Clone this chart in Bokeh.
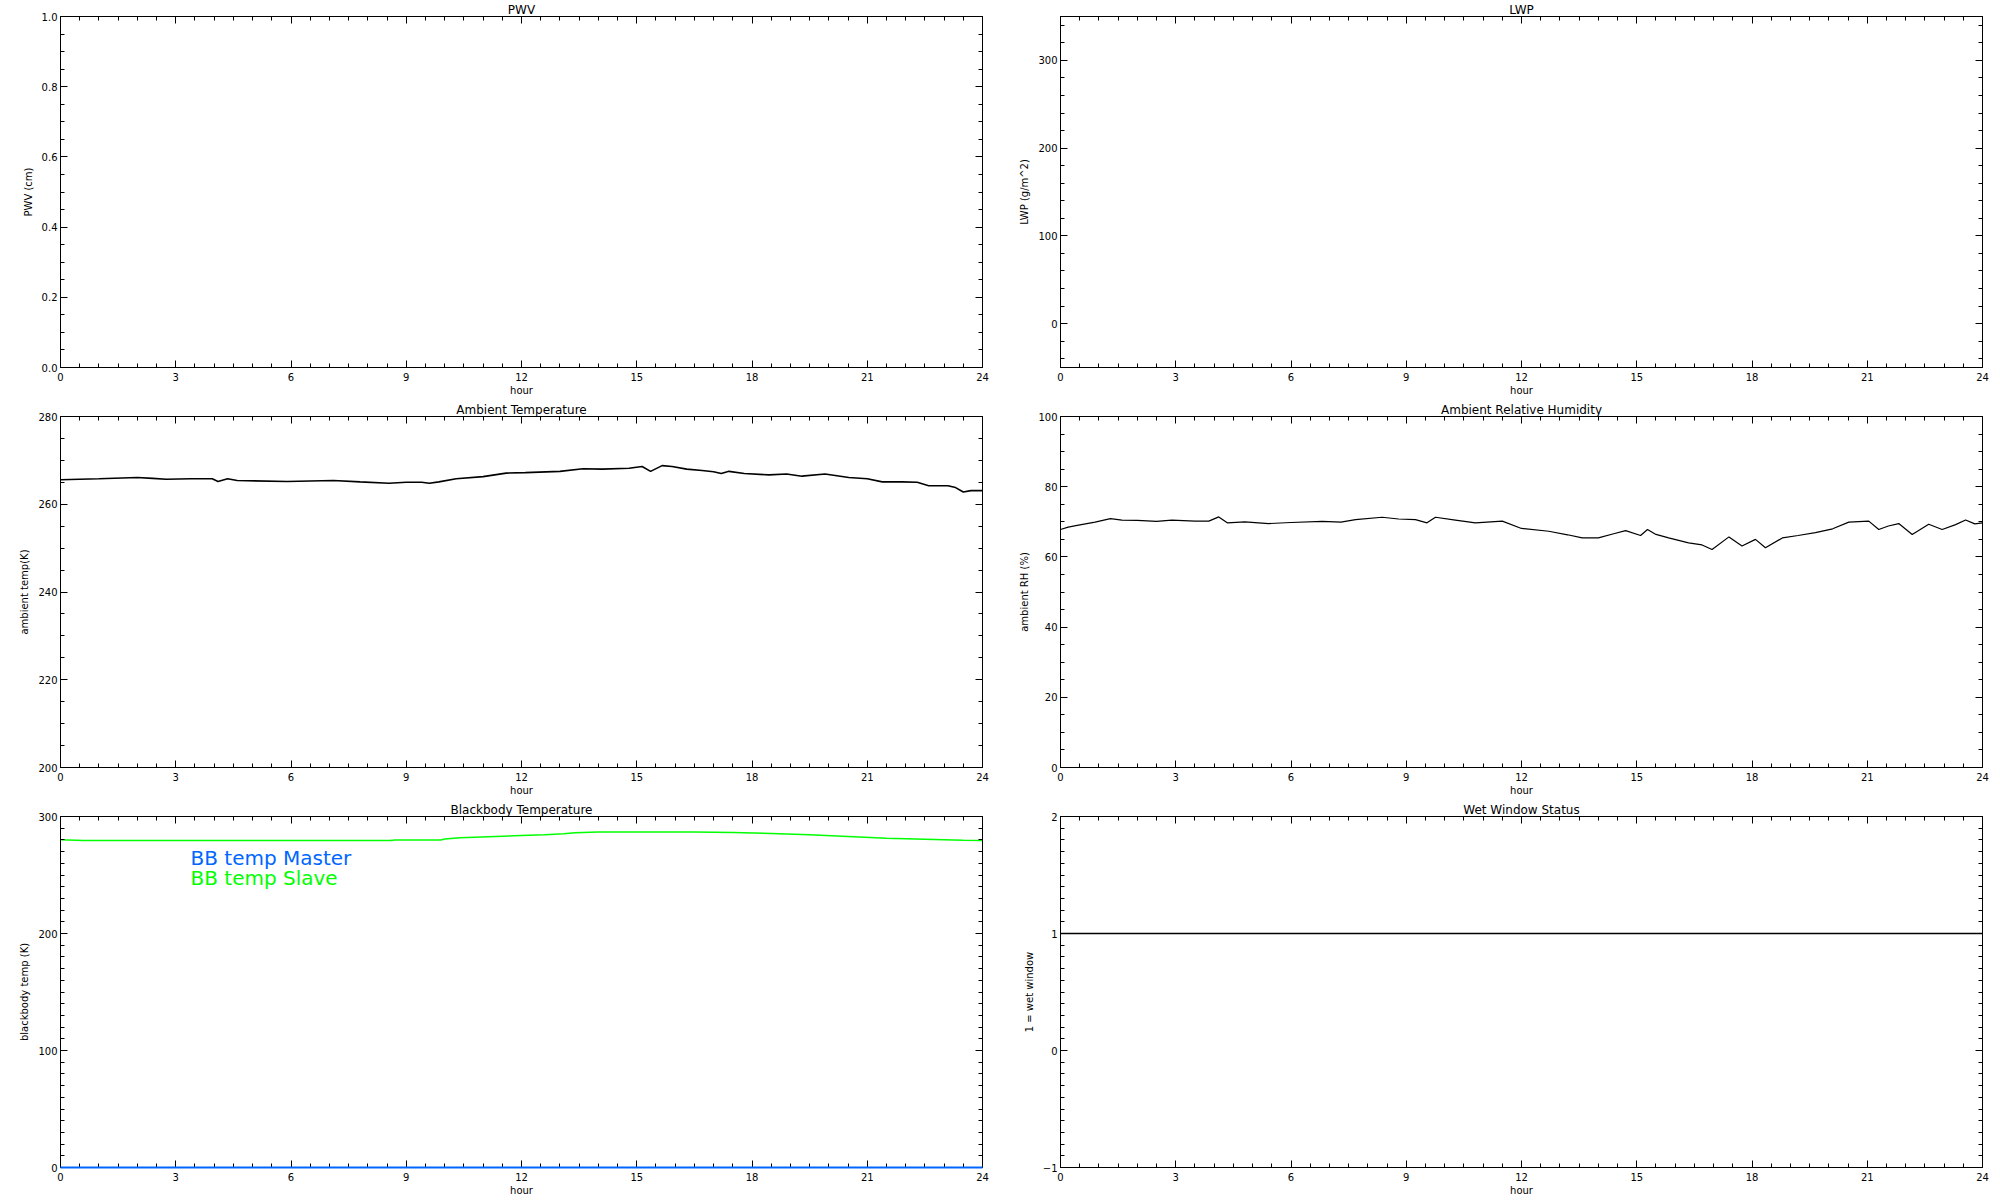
from bokeh.plotting import figure
from bokeh.layouts import column, row
from bokeh.models import (Range1d, LinearAxis, SingleIntervalTicker, Label, CustomJSTickFormatter,
                          CustomLabelingPolicy)
from bokeh.embed import file_html
from bokeh.resources import INLINE

FONT = "DejaVu Sans"

# ---------------- data ----------------
temp_hours = [0.0, 0.5, 1.0, 1.6, 2.0, 2.4, 2.75, 3.4, 3.95, 4.1, 4.35, 4.6, 5.9, 7.1, 7.8,
              8.55, 9.0, 9.4, 9.6, 9.85, 10.3, 11.0, 11.6, 12.1, 13.0, 13.6, 14.1, 14.8,
              15.14, 15.36, 15.66, 15.92, 16.3, 16.7, 17.0, 17.2, 17.4, 17.8, 18.44, 18.9,
              19.3, 19.9, 20.52, 21.0, 21.39, 21.9, 22.3, 22.6, 23.1, 23.3, 23.5, 23.7, 24.0]
temp_vals = [265.6, 265.7, 265.8, 266.0, 266.1, 265.9, 265.7, 265.8, 265.8, 265.2, 265.8, 265.4,
             265.2, 265.4, 265.1, 264.8, 265.0, 265.0, 264.8, 265.1, 265.8, 266.3, 267.1, 267.2,
             267.5, 268.1, 268.0, 268.2, 268.6, 267.5, 268.8, 268.6, 268.0, 267.7, 267.4, 267.0,
             267.5, 267.0, 266.7, 266.9, 266.4, 266.9, 266.1, 265.8, 265.1, 265.1, 265.0, 264.2,
             264.2, 263.8, 262.8, 263.1, 263.1]

rh_hours = [0.0, 0.2, 0.4, 0.9, 1.3, 1.6, 2.0, 2.5, 2.9, 3.5, 3.86, 4.12, 4.34, 4.8, 5.42, 6.0,
            6.81, 7.3, 7.68, 8.37, 8.8, 9.24, 9.54, 9.76, 10.28, 10.8, 11.5, 12.0, 12.71, 13.2,
            13.58, 14.0, 14.4, 14.71, 15.1, 15.28, 15.5, 15.83, 16.35, 16.7, 16.96, 17.4, 17.74,
            18.09, 18.35, 18.79, 19.2, 19.65, 20.1, 20.52, 21.04, 21.3, 21.55, 21.82, 22.17,
            22.6, 22.95, 23.3, 23.56, 23.8, 24.0]
rh_vals = [67.8, 68.5, 68.9, 69.9, 70.9, 70.5, 70.4, 70.1, 70.5, 70.2, 70.2, 71.4, 69.7, 70.0,
           69.5, 69.8, 70.1, 69.9, 70.6, 71.3, 70.8, 70.6, 69.7, 71.3, 70.5, 69.7, 70.2, 68.1,
           67.3, 66.3, 65.4, 65.4, 66.6, 67.5, 66.1, 67.8, 66.4, 65.4, 64.0, 63.4, 62.1, 65.7,
           63.1, 65.0, 62.6, 65.4, 66.1, 66.9, 68.0, 69.9, 70.2, 67.8, 68.8, 69.5, 66.4, 69.3,
           67.8, 69.2, 70.5, 69.4, 69.7]

bb_hours = [0.0, 0.6, 8.6, 8.7, 9.9, 10.0, 10.4, 11.8, 12.6, 13.1, 13.4, 14.0, 16.5, 17.5,
            18.5, 19.5, 20.5, 21.5, 22.5, 23.5, 24.0]
bb_slave = [280.1, 279.4, 279.4, 280.0, 280.0, 280.7, 281.8, 283.5, 284.4, 285.2, 286.1, 286.8,
            286.8, 286.3, 285.5, 284.4, 283.0, 281.5, 280.5, 279.6, 279.4]
bb_master_hours = [0.0, 24.0]
bb_master = [0.0, 0.0]

wet_hours = [0.0, 24.0]
wet_status = [1, 1]

titles = ["PWV", "LWP", "Ambient Temperature", "Ambient Relative Humidity",
          "Blackbody Temperature", "Wet Window Status"]
ylabels = ["PWV (cm)", "LWP (g/m^2)", "ambient temp(K)", "ambient RH (%)",
           "blackbody temp (K)", "1 = wet window"]
legend_texts = ["BB temp Master", "BB temp Slave"]

NO_LABELS_CODE = """
if (typeof indices.unset === "function") {
  const all = [...indices]
  for (const i of all) indices.unset(i)
}
return indices
"""


def style_axis(ax, show_labels):
    ax.axis_line_color = "black"
    ax.axis_line_width = 1
    ax.major_tick_in = 7
    ax.major_tick_out = 0
    ax.minor_tick_in = 4
    ax.minor_tick_out = 0
    ax.major_tick_line_color = "black"
    ax.minor_tick_line_color = "black"
    ax.major_label_text_font = FONT
    ax.major_label_text_font_size = "10px"
    ax.major_label_text_color = "black"
    ax.axis_label_text_font = FONT
    ax.axis_label_text_font_size = "10px"
    ax.axis_label_text_font_style = "normal"
    ax.axis_label_text_color = "black"
    if not show_labels:
        ax.major_label_policy = CustomLabelingPolicy(code=NO_LABELS_CODE)
        ax.major_label_text_font_size = "0px"
        ax.major_label_standoff = 0


def panel(width, height, bl, br, bt, bb, yr, yint, yminor, ylabel, title, yfmt=None):
    p = figure(width=width, height=height, x_range=Range1d(0, 24), y_range=Range1d(*yr),
               output_backend="svg", toolbar_location=None, tools="",
               min_border_left=bl, min_border_right=br, min_border_top=bt, min_border_bottom=bb,
               x_axis_location=None, y_axis_location=None)
    p.xgrid.visible = False
    p.ygrid.visible = False
    p.outline_line_color = "black"
    p.background_fill_color = "white"
    p.border_fill_color = "white"
    p.title.text = title
    p.title.align = "center"
    p.title.text_font = FONT
    p.title.text_font_size = "12px"
    p.title.text_font_style = "normal"
    p.title.text_color = "black"
    p.title.standoff = 0
    for loc in ("below", "above"):
        ax = LinearAxis(ticker=SingleIntervalTicker(interval=3, num_minor_ticks=6))
        style_axis(ax, loc == "below")
        if loc == "below":
            ax.axis_label = "hour"
            ax.major_label_standoff = 5
            ax.axis_label_standoff = 1
        p.add_layout(ax, loc)
    for loc in ("left", "right"):
        ax = LinearAxis(ticker=SingleIntervalTicker(interval=yint, num_minor_ticks=yminor))
        style_axis(ax, loc == "left")
        if loc == "left":
            ax.axis_label = ylabel
            ax.major_label_standoff = 3
            ax.axis_label_standoff = 5
            if yfmt is not None:
                ax.formatter = CustomJSTickFormatter(code="return tick.toFixed(%d)" % yfmt)
        p.add_layout(ax, loc)
    return p


LW, RW = 1010, 982
p1 = panel(LW, 400, 60, 28, 15, 33, (0.0, 1.0), 0.2, 4, ylabels[0], titles[0], yfmt=1)
p2 = panel(RW, 400, 50, 10, 15, 33, (-50, 350), 100, 5, ylabels[1], titles[1])
p3 = panel(LW, 400, 60, 28, 15, 33, (200, 280), 20, 4, ylabels[2], titles[2])
p4 = panel(RW, 400, 50, 10, 15, 33, (0, 100), 20, 4, ylabels[3], titles[3])
p5 = panel(LW, 398, 60, 28, 15, 31, (0, 300), 100, 10, ylabels[4], titles[4])
p6 = panel(RW, 398, 50, 10, 15, 31, (-1, 2), 1, 10, ylabels[5], titles[5])

p3.line(temp_hours, temp_vals, line_color="black", line_width=1.6)
p4.line(rh_hours, rh_vals, line_color="black", line_width=1.2)
p5.line(bb_master_hours, bb_master, line_color="#0066ff", line_width=2, level="overlay")
p5.line(bb_hours, bb_slave, line_color="#00ff00", line_width=1.5)
p6.line(wet_hours, wet_status, line_color="black", line_width=1.5)

p5.add_layout(Label(x=130, y=310, x_units="screen", y_units="screen", text=legend_texts[0],
                    text_align="left", text_baseline="middle", text_font=FONT,
                    text_font_size="20px", text_color="#0066ff"))
p5.add_layout(Label(x=130, y=290, x_units="screen", y_units="screen", text=legend_texts[1],
                    text_align="left", text_baseline="middle", text_font=FONT,
                    text_font_size="20px", text_color="#00ff00"))

layout = column(row(p1, p2), row(p3, p4), row(p5, p6))

open("out.html", "w").write(file_html(layout, INLINE))
